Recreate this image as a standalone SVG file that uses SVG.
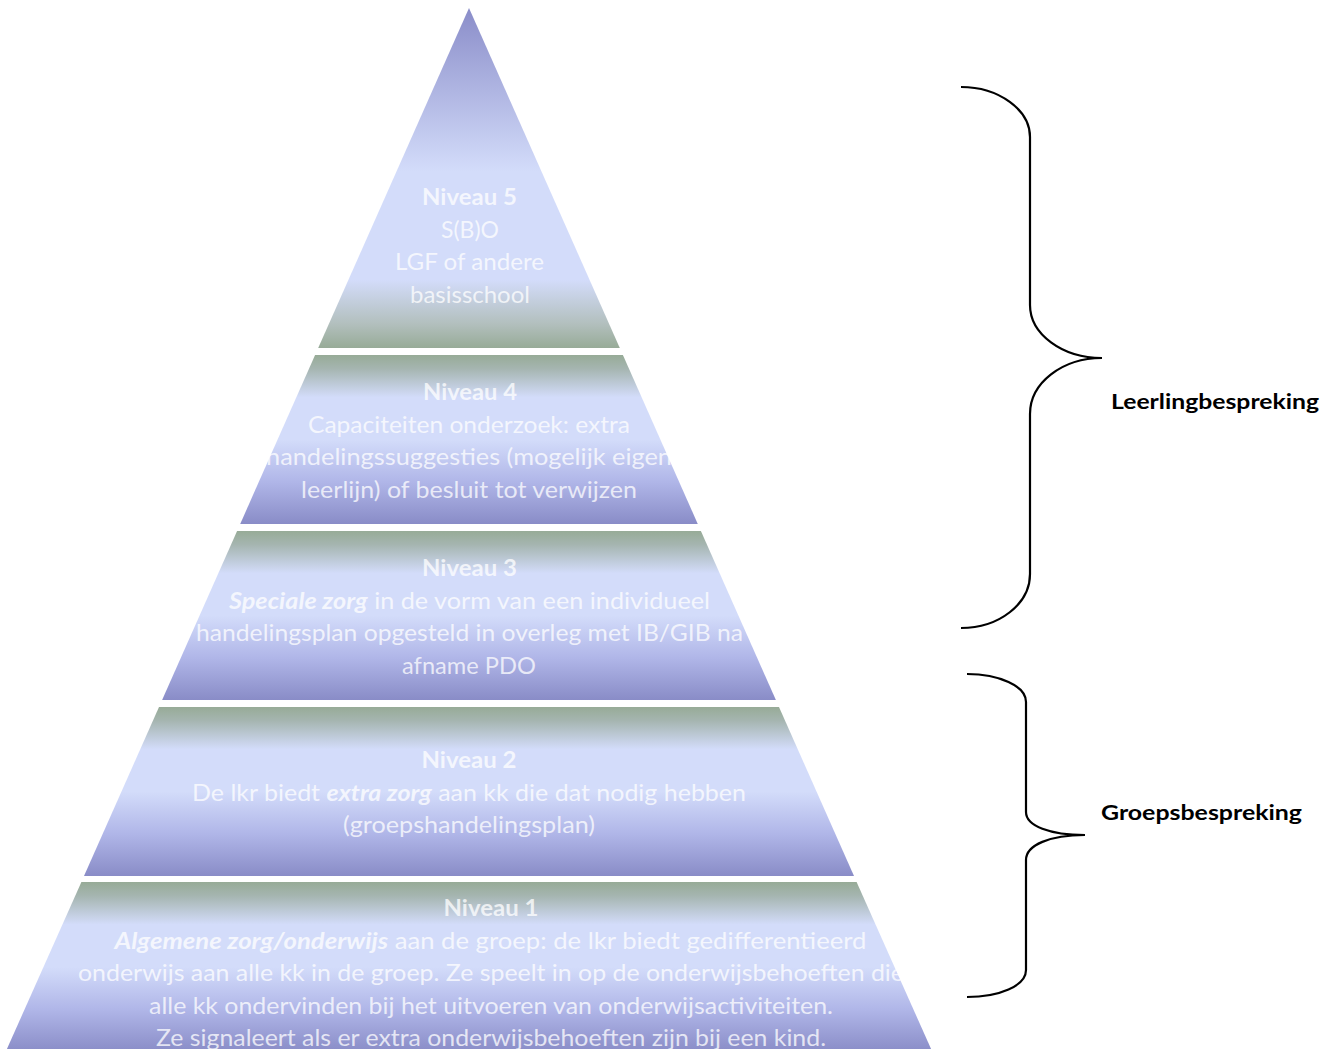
<svg xmlns="http://www.w3.org/2000/svg" width="1330" height="1049" viewBox="0 0 1330 1049">
<style>
.t{font-family:Lato,"Open Sans","Liberation Sans",sans-serif;font-size:23px;fill:#ffffff;fill-opacity:0.75;text-anchor:middle}
.h{font-weight:bold}
.bi{font-weight:bold;font-style:italic}
.lbl{font-family:Lato,"Open Sans","Liberation Sans",sans-serif;font-size:21px;font-weight:bold;fill:#000000}
.br{fill:none;stroke:#000000;stroke-width:2.2}
</style>
<defs>
<linearGradient id="g5" x1="0" y1="0" x2="0" y2="1">
<stop offset="0" stop-color="#8a8dc9"/>
<stop offset="0.48" stop-color="#d3dcfa"/>
<stop offset="0.80" stop-color="#d3dcfa"/>
<stop offset="0.93" stop-color="#b2bfbd"/>
<stop offset="1" stop-color="#97ab97"/>
</linearGradient>
<linearGradient id="gl" x1="0" y1="0" x2="0" y2="1">
<stop offset="0" stop-color="#97ab97"/>
<stop offset="0.08" stop-color="#a5b5b0"/>
<stop offset="0.25" stop-color="#d3dcfa"/>
<stop offset="0.50" stop-color="#d3dcfa"/>
<stop offset="0.75" stop-color="#b0b6e8"/>
<stop offset="1" stop-color="#898cc7"/>
</linearGradient>
<linearGradient id="g1" gradientUnits="userSpaceOnUse" x1="0" y1="882" x2="0" y2="1052">
<stop offset="0" stop-color="#97ab97"/>
<stop offset="0.08" stop-color="#a5b5b0"/>
<stop offset="0.25" stop-color="#d3dcfa"/>
<stop offset="0.50" stop-color="#d3dcfa"/>
<stop offset="0.75" stop-color="#b0b6e8"/>
<stop offset="1" stop-color="#898cc7"/>
</linearGradient>
</defs>
<rect width="1330" height="1049" fill="#ffffff"/>

<g id="niveau5">
<polygon points="469,8 619.8,348 318.2,348" fill="url(#g5)"/>
<text class="t h" x="469.5" y="205" textLength="95" lengthAdjust="spacingAndGlyphs">Niveau 5</text>
<text class="t" x="470" y="237.5" textLength="58" lengthAdjust="spacingAndGlyphs">S(B)O</text>
<text class="t" x="469.5" y="270" textLength="149" lengthAdjust="spacingAndGlyphs">LGF of andere</text>
<text class="t" x="470" y="302.5" textLength="120" lengthAdjust="spacingAndGlyphs">basisschool</text>
</g>

<g id="niveau4">
<polygon points="315.1,355 622.9,355 697.8,524 240.2,524" fill="url(#gl)"/>
<text class="t h" x="470" y="400" textLength="94" lengthAdjust="spacingAndGlyphs">Niveau 4</text>
<text class="t" x="469" y="432.5" textLength="322" lengthAdjust="spacingAndGlyphs">Capaciteiten onderzoek: extra</text>
<text class="t" x="469" y="465" textLength="406" lengthAdjust="spacingAndGlyphs">handelingssuggesties (mogelijk eigen</text>
<text class="t" x="469" y="497.5" textLength="336" lengthAdjust="spacingAndGlyphs">leerlijn) of besluit tot verwijzen</text>
</g>

<g id="niveau3">
<polygon points="237.1,531 700.9,531 775.9,700 162.1,700" fill="url(#gl)"/>
<text class="t h" x="469.5" y="576" textLength="95" lengthAdjust="spacingAndGlyphs">Niveau 3</text>
<text class="t" x="469.5" y="608.5" textLength="481" lengthAdjust="spacingAndGlyphs"><tspan class="bi">Speciale zorg</tspan> in de vorm van een individueel</text>
<text class="t" x="469.5" y="641" textLength="547" lengthAdjust="spacingAndGlyphs">handelingsplan opgesteld in overleg met IB/GIB na</text>
<text class="t" x="469" y="673.5" textLength="134" lengthAdjust="spacingAndGlyphs">afname PDO</text>
</g>

<g id="niveau2">
<polygon points="159,707 779,707 854,876 84,876" fill="url(#gl)"/>
<text class="t h" x="469" y="768" textLength="95" lengthAdjust="spacingAndGlyphs">Niveau 2</text>
<text class="t" x="469" y="800.5" textLength="554" lengthAdjust="spacingAndGlyphs">De lkr biedt <tspan class="bi">extra zorg</tspan> aan kk die dat nodig hebben</text>
<text class="t" x="469" y="833" textLength="252" lengthAdjust="spacingAndGlyphs">(groepshandelingsplan)</text>
</g>

<g id="niveau1">
<polygon points="81.4,882 856.6,882 936,1060 2,1060" fill="url(#g1)"/>
<text class="t h" x="491" y="916" textLength="95" lengthAdjust="spacingAndGlyphs">Niveau 1</text>
<text class="t" x="490.5" y="948.5" textLength="752" lengthAdjust="spacingAndGlyphs"><tspan class="bi">Algemene zorg/onderwijs</tspan> aan de groep: de lkr biedt gedifferentieerd</text>
<text class="t" x="491" y="981" textLength="826" lengthAdjust="spacingAndGlyphs">onderwijs aan alle kk in de groep. Ze speelt in op de onderwijsbehoeften die</text>
<text class="t" x="491" y="1013.5" textLength="684" lengthAdjust="spacingAndGlyphs">alle kk ondervinden bij het uitvoeren van onderwijsactiviteiten.</text>
<text class="t" x="491" y="1046" textLength="670" lengthAdjust="spacingAndGlyphs">Ze signaleert als er extra onderwijsbehoeften zijn bij een kind.</text>
</g>

<g id="connectors">
<path class="br" d="M961,87 C999,87 1030,110 1030,137 L1030,305 C1030,334 1062,358 1102,358 C1062,358 1030,383 1030,414 L1030,574 C1030,604 999,628 961,628"/>
<path class="br" d="M967,674 C999,674 1026,686 1026,702 L1026,812 C1026,826 1050,835 1085,835 C1050,835 1026,845 1026,860 L1026,970 C1026,986 999,997 967,997"/>
</g>

<g id="label-leerling">
<text class="lbl" x="1111" y="409" textLength="208" lengthAdjust="spacingAndGlyphs">Leerlingbespreking</text>
</g>
<g id="label-groep">
<text class="lbl" x="1101" y="820" textLength="201" lengthAdjust="spacingAndGlyphs">Groepsbespreking</text>
</g>
</svg>
